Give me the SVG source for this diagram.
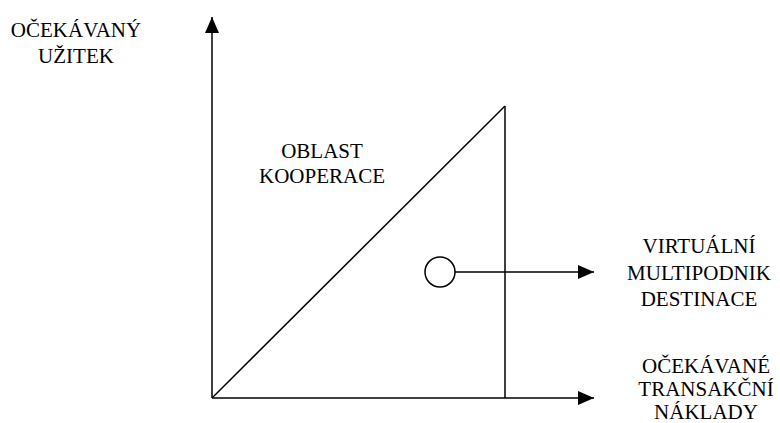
<svg xmlns="http://www.w3.org/2000/svg" width="780" height="423" viewBox="0 0 780 423">
<defs>
<marker id="ah" viewBox="0 0 16 14" refX="16" refY="7" markerWidth="16" markerHeight="14" markerUnits="userSpaceOnUse" orient="auto">
<path d="M0,0 L16,7 L0,14 Z" fill="#000"/>
</marker>
</defs>
<style>
.t{font-family:'Liberation Serif','Times New Roman',serif;font-size:21px;fill:#000;text-anchor:middle}
.ln{stroke:#000;stroke-width:1.5;fill:none}
</style>
<rect width="780" height="423" fill="#fff"/>
<g id="connectors">
<line class="ln" x1="212" y1="398" x2="212" y2="17" marker-end="url(#ah)"/>
<line class="ln" x1="212" y1="398" x2="594" y2="398" stroke-width="2" marker-end="url(#ah)"/>
<line class="ln" x1="212" y1="398" x2="505" y2="106"/>
<line class="ln" x1="505" y1="106" x2="505" y2="398"/>
<line class="ln" x1="455" y1="272" x2="594" y2="272" marker-end="url(#ah)"/>
</g>
<g id="point">
<circle class="ln" cx="440" cy="272" r="15"/>
</g>
<g id="label-y" class="t">
<text x="76" y="37">OČEKÁVANÝ</text>
<text x="76" y="63">UŽITEK</text>
</g>
<g id="label-region" class="t">
<text x="322" y="158">OBLAST</text>
<text x="322" y="183">KOOPERACE</text>
</g>
<g id="label-point" class="t">
<text x="699" y="253">VIRTUÁLNÍ</text>
<text x="699" y="280">MULTIPODNIK</text>
<text x="699" y="306">DESTINACE</text>
</g>
<g id="label-x" class="t">
<text x="706" y="373">OČEKÁVANÉ</text>
<text x="706" y="396">TRANSAKČNÍ</text>
<text x="706" y="419">NÁKLADY</text>
</g>
</svg>
